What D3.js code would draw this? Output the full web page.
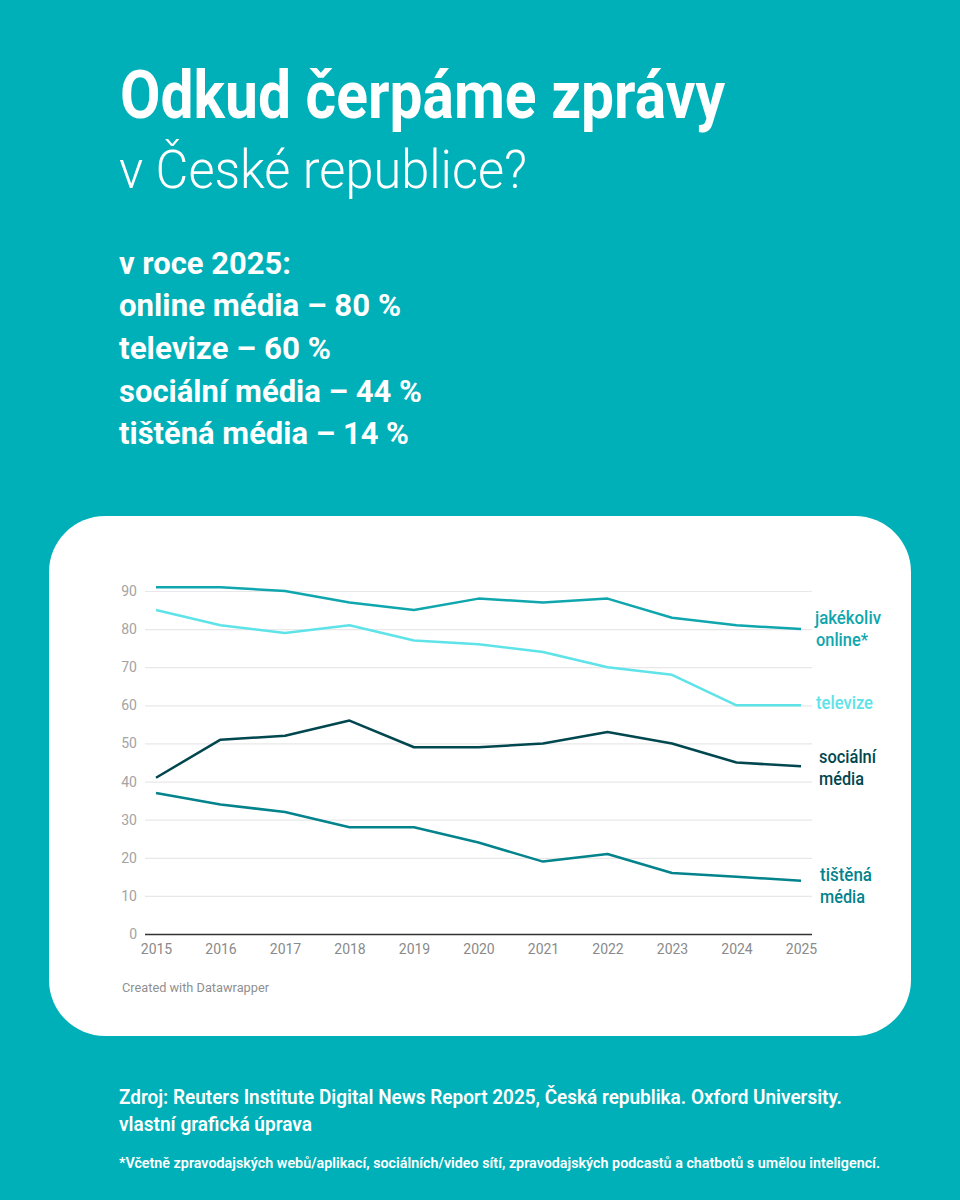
<!DOCTYPE html>
<html>
<head>
<meta charset="utf-8">
<script src="https://cdn.jsdelivr.net/npm/d3@7"></script>
<style>
html, body { margin: 0; padding: 0; background: #00b0b8; }
svg { display: block; }
text { font-family: Roboto, sans-serif; }
</style>
</head>
<body>
<svg width="960" height="1200"></svg>
<script>
var years = [2015, 2016, 2017, 2018, 2019, 2020, 2021, 2022, 2023, 2024, 2025];
var online = [91, 91, 90, 87, 85, 88, 87, 88, 83, 81, 80];
var televize = [85, 81, 79, 81, 77, 76, 74, 70, 68, 60, 60];
var socialni = [41, 51, 52, 56, 49, 49, 50, 53, 50, 45, 44];
var tistena = [37, 34, 32, 28, 28, 24, 19, 21, 16, 15, 14];
var yTicks = [0, 10, 20, 30, 40, 50, 60, 70, 80, 90];

var svg = d3.select('svg');
var white = '#ffffff';

// text squeezed to the measured width, the original face is narrower than Roboto
function label(x, y, str, size, weight, color, width) {
  var t = svg.append('text')
    .attr('x', x)
    .attr('y', y)
    .attr('font-size', size)
    .attr('font-weight', weight)
    .attr('fill', color)
    .text(str);
  if (width) t.attr('textLength', width).attr('lengthAdjust', 'spacingAndGlyphs');
  return t;
}

svg.append('rect')
  .attr('width', 960)
  .attr('height', 1200)
  .attr('fill', '#00b0b8');

// heading
label(120, 118, 'Odkud čerpáme zprávy', 67, 700, white, 605);
label(119, 188, 'v České republice?', 54, 300, white, 408);

label(119, 274, 'v roce 2025:', 32, 700, white, 172);
label(119, 316, 'online média – 80 %', 32, 700, white, 282);
label(119, 359, 'televize – 60 %', 32, 700, white, 212);
label(119, 402, 'sociální média – 44 %', 32, 700, white, 303);
label(119, 444, 'tištěná média – 14 %', 32, 700, white, 290);

// card
svg.append('rect')
  .attr('x', 49)
  .attr('y', 516)
  .attr('width', 862)
  .attr('height', 520)
  .attr('rx', 56)
  .attr('fill', white);

var x = d3.scaleLinear().domain([2015, 2025]).range([156, 801]);
var y = d3.scaleLinear().domain([0, 90]).range([934, 591]);

// gridlines
var yAxis = svg.append('g')
  .attr('transform', 'translate(145,0)')
  .call(d3.axisLeft(y).tickValues(yTicks).tickSize(-667).tickPadding(8));
yAxis.select('.domain').remove();
yAxis.selectAll('.tick line')
  .attr('stroke', function(d) { return d === 0 ? '#333333' : '#e8e8e8'; })
  .attr('stroke-width', function(d) { return d === 0 ? 1.6 : 1.2; });
yAxis.selectAll('.tick text')
  .attr('font-size', 14)
  .attr('font-family', 'Roboto, sans-serif')
  .attr('fill', '#a3a3a3');

var xAxis = svg.append('g')
  .attr('transform', 'translate(0,934)')
  .call(d3.axisBottom(x).tickValues(years).tickFormat(d3.format('d')).tickSize(0).tickPadding(10));
xAxis.select('.domain').remove();
xAxis.selectAll('.tick text')
  .attr('font-size', 14)
  .attr('font-family', 'Roboto, sans-serif')
  .attr('fill', '#8a8a8a');

// lines
var line = d3.line()
  .x(function(d, i) { return x(years[i]); })
  .y(function(d) { return y(d); });

function drawSeries(values, color) {
  svg.append('path')
    .datum(values)
    .attr('d', line)
    .attr('fill', 'none')
    .attr('stroke', color)
    .attr('stroke-width', 2.5)
    .attr('stroke-linejoin', 'round');
}
drawSeries(online, '#0fa6ae');
drawSeries(televize, '#5ee3e8');
drawSeries(socialni, '#00474f');
drawSeries(tistena, '#03838c');

// direct labels
label(815, 624, 'jakékoliv', 19, 500, '#0fa6ae', 66);
label(816, 646, 'online*', 19, 500, '#0fa6ae', 52);
label(816, 709, 'televize', 19, 500, '#5ee3e8', 57);
label(819, 763, 'sociální', 19, 500, '#00474f', 57);
label(819, 785, 'média', 19, 500, '#00474f', 45);
label(820, 881, 'tištěná', 19, 500, '#03838c', 52);
label(820, 903, 'média', 19, 500, '#03838c', 45);

label(122, 992, 'Created with Datawrapper', 12.5, 400, '#8f8f8f', 147);

// source notes
label(119, 1104, 'Zdroj: Reuters Institute Digital News Report 2025, Česká republika. Oxford University.', 20, 600, white, 723);
label(119, 1131, 'vlastní grafická úprava', 20, 600, white, 193);
label(119, 1168, '*Včetně zpravodajských webů/aplikací, sociálních/video sítí, zpravodajských podcastů a chatbotů s umělou inteligencí.', 15.5, 600, white, 761);
</script>
</body>
</html>
